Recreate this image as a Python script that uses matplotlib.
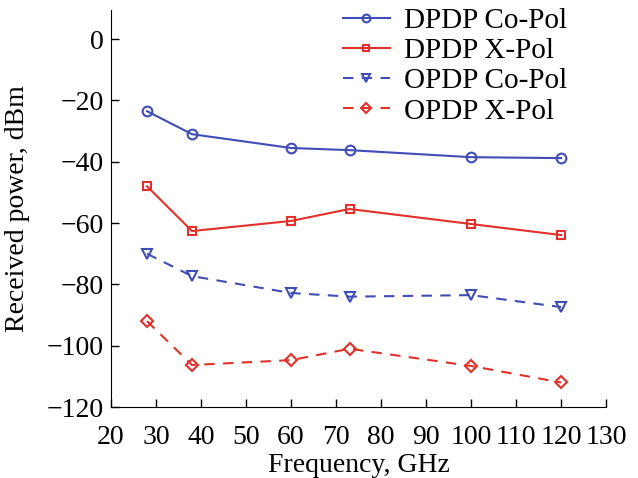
import matplotlib
matplotlib.use("Agg")
import matplotlib.pyplot as plt

# frequencies (GHz) and received power (dBm)
freq = [28, 38, 60, 73, 100, 120]
dpdp_co = [-23.5, -31, -35.5, -36.2, -38.5, -38.8]
dpdp_x = [-48, -62.6, -59.3, -55.4, -60.3, -63.9]
opdp_co = [-70, -77.3, -82.8, -84, -83.5, -87.4]
opdp_x = [-92, -106.3, -104.7, -101, -106.6, -112]

x_ticks = list(range(20, 131, 10))
y_ticks = list(range(-120, 1, 20))

blue = '#3f4db5'
red = '#e2302a'

plt.rcParams['font.family'] = ['Liberation Serif', 'DejaVu Serif']
plt.rcParams['font.size'] = 20

fig, ax = plt.subplots(figsize=(6.38, 4.78), dpi=100)
fig.subplots_adjust(left=0.174, right=0.95, top=0.979, bottom=0.1485)

dash = (0, (5, 4))
ax.plot(freq, dpdp_co, '-', color=blue, marker='o', mfc='none', ms=7, mew=1.5, lw=1.5, label='DPDP Co-Pol')
ax.plot(freq, dpdp_x, '-', color=red, marker='s', mfc='none', ms=5.5, mew=1.5, lw=1.5, label='DPDP X-Pol')
ax.plot(freq, opdp_co, linestyle=dash, color=blue, marker='v', mfc='none', ms=7.5, mew=1.5, lw=1.5, label='OPDP Co-Pol')
ax.plot(freq, opdp_x, linestyle=dash, color=red, marker='D', mfc='none', ms=6.5, mew=1.5, lw=1.5, label='OPDP X-Pol')

ax.set_xlim(20, 130)
ax.set_ylim(-120, 9.5)
ax.set_xticks(x_ticks)
ax.set_yticks(y_ticks)
ax.set_yticklabels([str(v).replace('-', '\u2212') for v in y_ticks])
ax.tick_params(direction='in', length=6, width=1)
ax.tick_params(axis='x', pad=13)
ax.tick_params(axis='y', pad=5)
ax.spines['top'].set_visible(False)
ax.spines['right'].set_visible(False)

ax.set_xlabel('Frequency, GHz', labelpad=2)
ax.set_ylabel('Received power, dBm', labelpad=12)

ax.legend(loc='upper left', bbox_to_anchor=(0.5376, 0.984), bbox_transform=fig.transFigure,
          frameon=False, fontsize=21, handlelength=1.6, handletextpad=0.5,
          labelspacing=0.13, borderpad=0, borderaxespad=0, markerscale=0.8)

fig.savefig('out.png', dpi=100)
